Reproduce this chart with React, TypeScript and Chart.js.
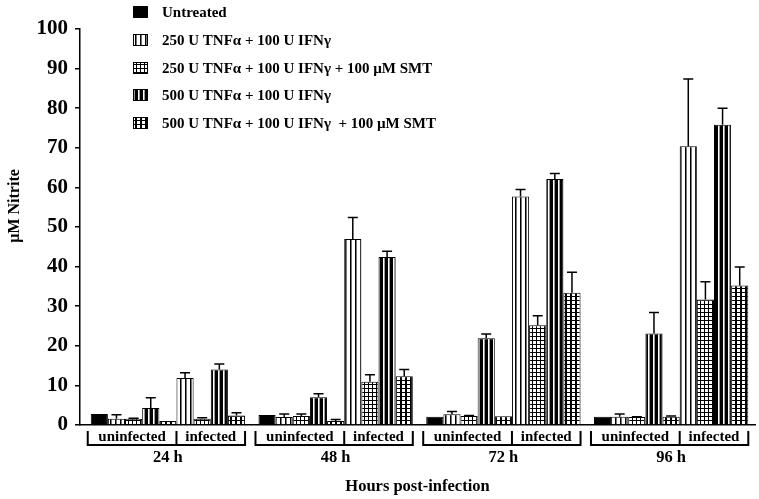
import React, { useEffect, useRef } from 'react';
import { Chart, registerables } from 'chart.js';

Chart.register(...registerables);

// ---------- data ----------
const timeLabels = ['24 h', '48 h', '72 h', '96 h'];
const timeIndex = [0, 1, 2, 3];
const groupLabels = ['uninfected', 'infected'];

const treatmentNames = [
  'Untreated',
  '250 U TNFα + 100 U IFNγ',
  '250 U TNFα + 100 U IFNγ + 100 µM SMT',
  '500 U TNFα + 100 U IFNγ',
  '500 U TNFα + 100 U IFNγ  + 100 µM SMT',
];
const treatmentPatterns = ['solid', 'vlight', 'grid', 'vdark', 'gridDark'];

// uninfected
const uninfUntreated = [2.8, 2.5, 2.1, 2.1];
const uninfUntreatedErr = [0, 0, 0, 0];
const uninf250 = [1.6, 2.0, 2.7, 2.1];
const uninf250Err = [1.0, 0.8, 0.7, 0.7];
const uninf250Smt = [1.6, 2.3, 2.3, 2.0];
const uninf250SmtErr = [0.1, 0.5, 0.1, 0.1];
const uninf500 = [4.3, 7.0, 21.9, 23.1];
const uninf500Err = [2.6, 0.9, 1.1, 5.3];
const uninf500Smt = [1.0, 1.0, 2.2, 2.1];
const uninf500SmtErr = [0, 0.4, 0, 0.2];
// infected
const inf250 = [11.9, 47.0, 57.7, 70.4];
const inf250Err = [1.3, 5.4, 1.8, 17.0];
const inf250Smt = [1.6, 10.9, 25.2, 31.7];
const inf250SmtErr = [0.2, 1.8, 2.4, 4.5];
const inf500 = [14.0, 42.4, 62.1, 75.8];
const inf500Err = [1.4, 1.5, 1.4, 4.2];
const inf500Smt = [2.4, 12.3, 33.4, 35.2];
const inf500SmtErr = [0.7, 1.7, 5.2, 4.7];

const seriesValues = [uninfUntreated, uninf250, uninf250Smt, uninf500, uninf500Smt, inf250, inf250Smt, inf500, inf500Smt];
const seriesErrors = [uninfUntreatedErr, uninf250Err, uninf250SmtErr, uninf500Err, uninf500SmtErr, inf250Err, inf250SmtErr, inf500Err, inf500SmtErr];
const seriesTreatment = [0, 1, 2, 3, 4, 1, 2, 3, 4];

const FONT = '"Liberation Serif", "Times New Roman", serif';

function makePattern(kind: string): CanvasPattern | string {
  if (kind === 'solid') return '#000';
  const c = document.createElement('canvas');
  const g = c.getContext('2d')!;
  if (kind === 'vlight') {
    c.width = 5; c.height = 4;
    g.fillStyle = '#fff'; g.fillRect(0, 0, 5, 4);
    g.fillStyle = '#000'; g.fillRect(0, 0, 1, 4);
    g.fillStyle = '#777'; g.fillRect(1, 0, 1, 4);
  } else if (kind === 'vdark') {
    c.width = 5; c.height = 4;
    g.fillStyle = '#000'; g.fillRect(0, 0, 5, 4);
    g.fillStyle = '#fff'; g.fillRect(3, 0, 1, 4);
    g.fillStyle = '#999'; g.fillRect(4, 0, 1, 4);
  } else if (kind === 'grid') {
    c.width = 4; c.height = 4;
    g.fillStyle = '#fff'; g.fillRect(0, 0, 4, 4);
    g.fillStyle = '#000'; g.fillRect(0, 0, 4, 1); g.fillRect(0, 0, 1, 4);
  } else {
    c.width = 5; c.height = 4;
    g.fillStyle = '#000'; g.fillRect(0, 0, 5, 4);
    g.fillStyle = '#fff'; g.fillRect(2, 1, 3, 3);
  }
  return g.createPattern(c, 'repeat')!;
}

export default function App() {
  const ref = useRef<HTMLCanvasElement>(null);

  useEffect(() => {
    const canvas = ref.current!;
    const fills = treatmentPatterns.map(makePattern);

    const datasets = seriesValues.map((vals, si) => ({
      label: treatmentNames[seriesTreatment[si]],
      data: vals.map((v, i) => ({ x: timeIndex[i], y: v })),
      backgroundColor: fills[seriesTreatment[si]] as any,
      borderColor: '#000',
      borderWidth: 1,
      barPercentage: 1.0,
      categoryPercentage: 0.92,
    }));

    const errorBars = {
      id: 'errorBars',
      afterDatasetsDraw(chart: any) {
        const ctx = chart.ctx;
        const y = chart.scales.y;
        ctx.save();
        ctx.strokeStyle = '#000';
        ctx.lineWidth = 1.5;
        chart.data.datasets.forEach((ds: any, si: number) => {
          const meta = chart.getDatasetMeta(si);
          meta.data.forEach((el: any, i: number) => {
            const err = seriesErrors[si][i];
            if (!err) return;
            const top = y.getPixelForValue(seriesValues[si][i] + err);
            ctx.beginPath();
            ctx.moveTo(el.x, el.y);
            ctx.lineTo(el.x, top);
            ctx.moveTo(el.x - 5, top);
            ctx.lineTo(el.x + 5, top);
            ctx.stroke();
          });
        });
        ctx.restore();
      },
    };

    const decorations = {
      id: 'decorations',
      afterDraw(chart: any) {
        const ctx = chart.ctx;
        ctx.save();
        // legend
        const legendY = [12, 40, 68, 95, 123];
        treatmentNames.forEach((name, k) => {
          const yc = legendY[k];
          ctx.fillStyle = fills[k];
          ctx.fillRect(133, yc - 6, 15, 12);
          ctx.strokeStyle = '#000';
          ctx.lineWidth = 1;
          ctx.strokeRect(133.5, yc - 5.5, 14, 11);
          ctx.fillStyle = '#000';
          ctx.font = `bold 15px ${FONT}`;
          ctx.textAlign = 'left';
          ctx.textBaseline = 'middle';
          ctx.fillText(name, 162, yc + 1);
        });
        // group brackets
        const m0 = chart.getDatasetMeta(0);
        const m4 = chart.getDatasetMeta(4);
        const m5 = chart.getDatasetMeta(5);
        const m8 = chart.getDatasetMeta(8);
        ctx.strokeStyle = '#000';
        ctx.lineWidth = 2;
        ctx.font = `bold 15px ${FONT}`;
        ctx.textAlign = 'center';
        ctx.textBaseline = 'middle';
        timeIndex.forEach((_, i) => {
          const a = m0.data[i], b = m4.data[i], c = m5.data[i], d = m8.data[i];
          const left = a.x - a.width / 2 - 3;
          const mid = (b.x + b.width / 2 + c.x - c.width / 2) / 2;
          const right = d.x + d.width / 2;
          const yTop = 431, yBot = 445;
          ctx.beginPath();
          ctx.moveTo(left, yTop); ctx.lineTo(left, yBot); ctx.lineTo(right, yBot); ctx.lineTo(right, yTop);
          ctx.moveTo(mid, yTop); ctx.lineTo(mid, yBot);
          ctx.stroke();
          ctx.fillText(groupLabels[0], (left + mid) / 2, 437);
          ctx.fillText(groupLabels[1], (mid + right) / 2, 437);
        });
        // y title
        ctx.save();
        ctx.translate(15, 206);
        ctx.rotate(-Math.PI / 2);
        ctx.font = `bold 16px ${FONT}`;
        ctx.fillText('µM Nitrite', 0, 0);
        ctx.restore();
        ctx.restore();
      },
    };

    const chart = new Chart(canvas, {
      type: 'bar',
      data: { datasets: datasets as any },
      options: {
        animation: false,
        responsive: false,
        layout: { padding: { top: 29, right: 4, left: 0, bottom: 0 } },
        plugins: { legend: { display: false }, tooltip: { enabled: false } },
        scales: {
          x: {
            type: 'linear',
            min: -0.524,
            max: 3.5,
            offset: false,
            grid: { display: false, drawTicks: false },
            border: { display: true, color: '#000', width: 1.5 },
            afterBuildTicks: (s: any) => { s.ticks = timeIndex.map((v) => ({ value: v })); },
            afterFit: (s: any) => { s.height = 74; },
            ticks: {
              autoSkip: false,
              maxRotation: 0,
              padding: 23,
              color: '#000',
              font: { family: FONT, size: 16.5, weight: 'bold' },
              callback: (v: any) => timeLabels[v as number] ?? '',
            },
            title: {
              display: true,
              text: 'Hours post-infection',
              color: '#000',
              font: { family: FONT, size: 16.5, weight: 'bold' },
              padding: { top: 0, bottom: 2 },
            },
          },
          y: {
            min: 0,
            max: 100,
            afterFit: (s: any) => { s.width = 80; },
            grid: { display: true, drawOnChartArea: false, drawTicks: true, tickLength: 5, color: '#000', lineWidth: 1.5 },
            border: { display: true, color: '#000', width: 1.5 },
            ticks: {
              stepSize: 10,
              padding: 7,
              color: '#000',
              font: { family: FONT, size: 21, weight: 'bold' },
            },
          },
        },
      },
      plugins: [errorBars, decorations],
    });
    return () => chart.destroy();
  }, []);

  return (
    <div style={{ position: 'absolute', left: 0, top: 0, width: 759, height: 499, background: '#fff' }}>
      <canvas ref={ref} width={759} height={499} style={{ display: 'block' }} />
    </div>
  );
}
